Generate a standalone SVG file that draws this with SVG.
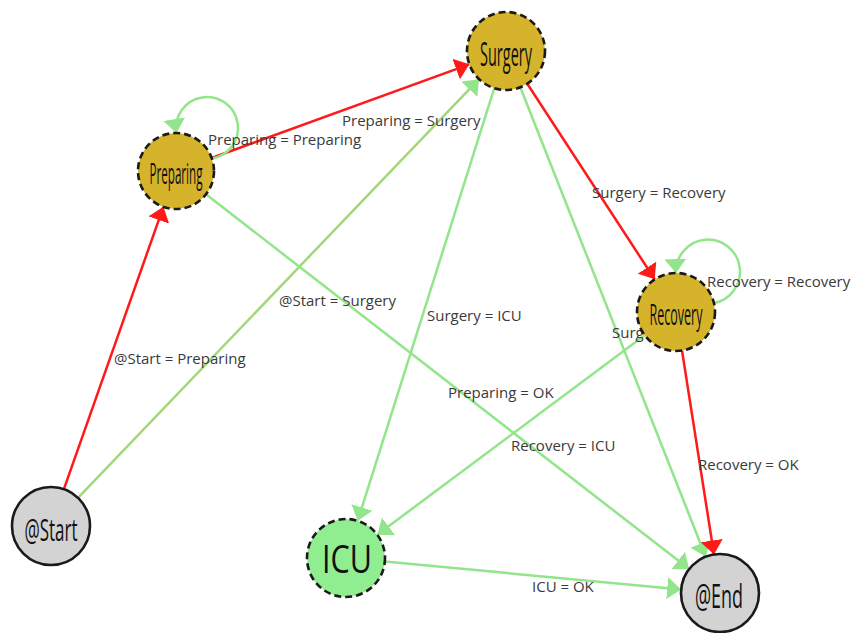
<svg xmlns="http://www.w3.org/2000/svg" width="855" height="633" viewBox="0 0 855 633">
  <style>
    .edge { fill: none; stroke-width: 2.5; }
    .red { stroke: #ff1a1a; }
    .green { stroke: #93e58b; }
    .elabel { font-family: "Open Sans", "Noto Sans", sans-serif; font-size: 15px; fill: #3a3a3a; }
    .state { fill: #d5b42c; stroke: #1a1a1a; stroke-width: 2.6; stroke-dasharray: 7 4; }
    .icu { fill: #90ee90; stroke: #1a1a1a; stroke-width: 2.6; stroke-dasharray: 7 4; }
    .terminal { fill: #d3d3d3; stroke: #1a1a1a; stroke-width: 2.6; }
    .nlabel { font-family: "Open Sans", "Noto Sans", sans-serif; fill: #111; text-anchor: middle; }
  </style>
  <defs>
    <marker id="arrowRed" viewBox="0 0 14 22" refX="14" refY="11" markerWidth="14" markerHeight="22" markerUnits="userSpaceOnUse" orient="auto">
      <path d="M0,0 L14,11 L0,22 z" fill="#ff1a1a"/>
    </marker>
    <marker id="arrowGreen" viewBox="0 0 14 22" refX="14" refY="11" markerWidth="14" markerHeight="22" markerUnits="userSpaceOnUse" orient="auto">
      <path d="M0,0 L14,11 L0,22 z" fill="#93e58b"/>
    </marker>
  </defs>

  <g id="connectors">
    <!-- @Start -> Preparing -->
    <path class="edge red" d="M63.9,489.2 L163.4,206.8" marker-end="url(#arrowRed)"/>
    <!-- @Start -> Surgery -->
    <path class="edge green" style="stroke:#a2d77a" d="M78,497.8 L479,79.2" marker-end="url(#arrowGreen)"/>
    <!-- Preparing -> Surgery -->
    <path class="edge red" d="M211.7,158 L469.3,64.3" marker-end="url(#arrowRed)"/>
    <!-- Preparing -> Preparing -->
    <path class="edge green" d="M212,158.6 A31,31 0 1 0 176.4,133" marker-end="url(#arrowGreen)"/>
    <!-- Surgery -> Recovery -->
    <path class="edge red" d="M527.3,83.7 L654.7,279.3" marker-end="url(#arrowRed)"/>
    <!-- Surgery -> ICU -->
    <path class="edge green" d="M494.3,88.2 L357.7,520.8" marker-end="url(#arrowGreen)"/>
    <!-- Surgery -> @End -->
    <path class="edge green" d="M520.3,87.3 L705.7,556.7" marker-end="url(#arrowGreen)"/>
    <!-- Preparing -> @End -->
    <path class="edge green" d="M206,194.3 L689.2,569.1" marker-end="url(#arrowGreen)"/>
    <!-- Recovery -> Recovery -->
    <path class="edge green" d="M714,303 A32,32 0 1 0 676,273" marker-end="url(#arrowGreen)"/>
    <!-- Recovery -> ICU -->
    <path class="edge green" d="M644.7,335.3 L377.3,534.7" marker-end="url(#arrowGreen)"/>
    <!-- Recovery -> @End -->
    <path class="edge red" d="M682,350.5 L714,554.5" marker-end="url(#arrowRed)"/>
    <!-- ICU -> @End -->
    <path class="edge green" d="M384.8,561.6 L681.2,589.4" marker-end="url(#arrowGreen)"/>

    <text class="elabel" x="208" y="145">Preparing = Preparing</text>
    <text class="elabel" x="342" y="126">Preparing = Surgery</text>
    <text class="elabel" x="592" y="198">Surgery = Recovery</text>
    <text class="elabel" x="707" y="287">Recovery = Recovery</text>
    <text class="elabel" x="279" y="306">@Start = Surgery</text>
    <text class="elabel" x="427" y="321">Surgery = ICU</text>
    <text class="elabel" x="114" y="364">@Start = Preparing</text>
    <!-- label of Surgery -> @End, mostly covered by the Recovery node -->
    <text class="elabel" x="612" y="338">Surg</text>
    <text class="elabel" x="448" y="398">Preparing = OK</text>
    <text class="elabel" x="511" y="451">Recovery = ICU</text>
    <text class="elabel" x="698" y="470">Recovery = OK</text>
    <text class="elabel" x="532" y="592">ICU = OK</text>
  </g>

  <g id="node-preparing">
    <circle class="state" cx="176" cy="171" r="38"/>
    <text class="nlabel" x="176" y="184" font-size="30" textLength="53" lengthAdjust="spacingAndGlyphs">Preparing</text>
  </g>
  <g id="node-surgery">
    <circle class="state" cx="506" cy="51" r="39"/>
    <text class="nlabel" x="506" y="66" font-size="32" textLength="52" lengthAdjust="spacingAndGlyphs">Surgery</text>
  </g>
  <g id="node-recovery">
    <circle class="state" cx="676" cy="312" r="39"/>
    <text class="nlabel" x="676" y="325" font-size="30" textLength="53" lengthAdjust="spacingAndGlyphs">Recovery</text>
  </g>
  <g id="node-start">
    <circle class="terminal" cx="51" cy="526" r="39"/>
    <text class="nlabel" x="51" y="541" font-size="31" textLength="53" lengthAdjust="spacingAndGlyphs">@Start</text>
  </g>
  <g id="node-icu">
    <circle class="icu" cx="346" cy="558" r="39"/>
    <text class="nlabel" x="347" y="573" font-size="38" textLength="50" lengthAdjust="spacingAndGlyphs">ICU</text>
  </g>
  <g id="node-end">
    <circle class="terminal" cx="720" cy="593" r="39"/>
    <text class="nlabel" x="719" y="608" font-size="32" textLength="48" lengthAdjust="spacingAndGlyphs">@End</text>
  </g>
</svg>
